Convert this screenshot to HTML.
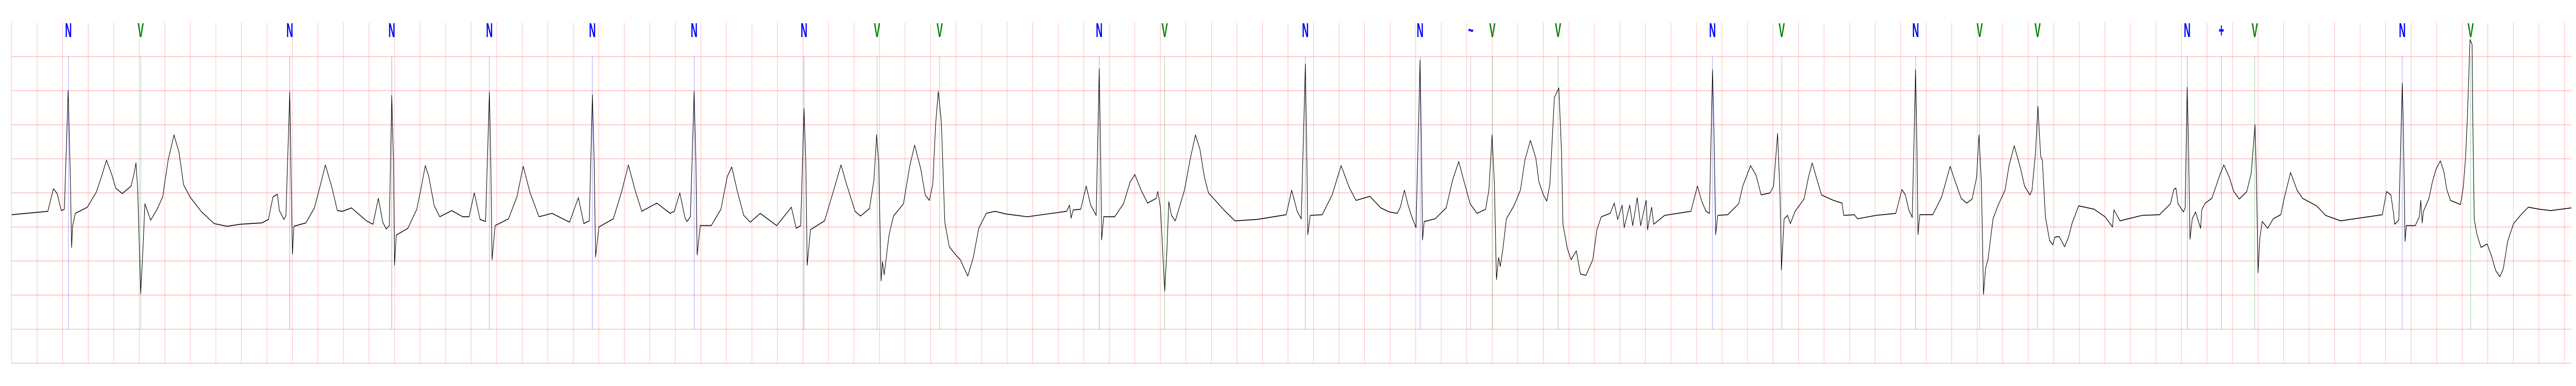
<!DOCTYPE html>
<html><head><meta charset="utf-8"><title>ECG strip</title>
<style>html,body{margin:0;padding:0;background:#fff;overflow:hidden;width:100%;height:100%;}svg{display:block;width:100vw;height:100vh;}</style></head>
<body>
<svg id="chart" viewBox="0 0 7522 750" preserveAspectRatio="none" xmlns="http://www.w3.org/2000/svg">
<rect x="0" y="0" width="7522" height="750" fill="#fff"/>
<g id="grid"></g>
<g id="markers"></g>
<g id="labels"></g>
<g id="trace"></g>
</svg>
<script>
// time (s) of knots
const sigT = [0,0.284,0.327,0.357,0.389,0.413,0.443,0.459,0.470,0.478,0.499,0.593,0.663,0.706,0.743,0.786,0.816,0.867,0.936,0.961,0.974,0.987,1.011,1.030,1.044,1.089,1.140,1.183,1.226,1.272,1.312,1.347,1.398,1.484,1.586,1.688,1.792,1.961,2.012,2.047,2.082,2.098,2.133,2.149,2.179,2.189,2.200,2.211,2.305,2.372,2.425,2.458,2.509,2.552,2.592,2.662,2.780,2.831,2.873,2.908,2.935,2.959,2.978,2.992,3.000,3.013,3.104,3.174,3.209,3.241,3.268,3.311,3.354,3.448,3.534,3.584,3.625,3.670,3.713,3.743,3.754,3.764,3.788,3.893,3.960,4.008,4.062,4.132,4.234,4.371,4.440,4.483,4.526,4.550,4.564,4.575,4.601,4.714,4.781,4.832,4.886,4.937,5.055,5.159,5.192,5.235,5.275,5.291,5.318,5.347,5.361,5.371,5.395,5.481,5.557,5.607,5.642,5.685,5.736,5.787,5.865,5.994,6.109,6.147,6.182,6.208,6.222,6.233,6.259,6.369,6.439,6.498,6.541,6.608,6.651,6.721,6.756,6.777,6.793,6.812,6.823,6.836,6.874,6.909,6.987,7.038,7.075,7.123,7.158,7.190,7.217,7.239,7.260,7.284,7.311,7.346,7.397,7.432,7.491,7.534,7.577,7.636,7.705,7.791,7.958,8.266,8.288,8.301,8.317,8.376,8.419,8.454,8.497,8.521,8.532,8.540,8.556,8.642,8.711,8.763,8.800,8.849,8.900,8.967,8.980,9.001,9.034,9.052,9.066,9.087,9.117,9.189,9.232,9.275,9.310,9.345,9.377,9.498,9.584,9.755,9.986,10.029,10.072,10.104,10.136,10.147,10.155,10.174,10.268,10.346,10.416,10.482,10.533,10.641,10.727,10.794,10.856,10.880,10.912,10.941,10.966,11.003,11.035,11.046,11.054,11.067,11.153,11.239,11.290,11.338,11.376,11.427,11.481,11.548,11.574,11.599,11.617,11.633,11.650,11.663,11.684,11.711,11.770,11.821,11.856,11.899,11.942,11.966,12.001,12.028,12.052,12.087,12.122,12.143,12.154,12.189,12.218,12.259,12.291,12.334,12.388,12.420,12.455,12.524,12.556,12.583,12.618,12.634,12.677,12.701,12.736,12.763,12.806,12.817,12.849,12.865,12.951,13.157,13.208,13.241,13.275,13.302,13.326,13.337,13.351,13.367,13.445,13.531,13.563,13.624,13.667,13.707,13.777,13.804,13.836,13.855,13.866,13.887,13.914,13.936,13.973,14.043,14.078,14.107,14.145,14.180,14.274,14.341,14.354,14.437,14.462,14.606,14.762,14.810,14.837,14.864,14.891,14.917,14.928,14.936,14.950,15.052,15.121,15.188,15.223,15.274,15.317,15.360,15.395,15.414,15.433,15.449,15.465,15.484,15.524,15.564,15.618,15.650,15.690,15.736,15.771,15.813,15.829,15.857,15.875,15.897,15.910,15.934,15.967,15.993,16.007,16.042,16.085,16.117,16.144,16.195,16.316,16.401,16.460,16.471,16.519,16.691,16.828,16.914,16.940,16.957,16.973,17.016,17.029,17.045,17.053,17.067,17.085,17.110,17.150,17.160,17.187,17.238,17.273,17.300,17.332,17.375,17.410,17.453,17.512,17.547,17.576,17.587,17.600,17.614,17.633,17.676,17.719,17.778,17.804,17.855,17.906,17.949,18.059,18.129,18.247,18.574,18.607,18.641,18.660,18.671,18.703,18.730,18.738,18.752,18.762,18.832,18.864,18.875,18.886,18.896,18.939,18.966,18.993,19.028,19.055,19.079,19.108,19.186,19.208,19.226,19.240,19.261,19.277,19.283,19.294,19.315,19.347,19.395,19.430,19.462,19.495,19.522,19.556,19.602,19.656,19.717,19.806,19.894,20.055];
// amplitude (mV) of knots
const sigV = [0.18,0.23,0.56,0.49,0.24,0.26,2.00,0.80,-0.30,0.02,0.20,0.29,0.51,0.75,0.98,0.76,0.57,0.49,0.60,0.80,0.94,0.58,-0.98,-0.28,0.34,0.10,0.26,0.44,0.98,1.35,1.09,0.62,0.44,0.23,0.05,0.01,0.04,0.06,0.11,0.44,0.48,0.24,0.11,0.17,1.98,0.80,-0.40,0.01,0.06,0.28,0.66,0.91,0.58,0.24,0.23,0.28,0.09,0.04,0.42,0.07,-0.03,0.02,1.93,0.96,-0.56,-0.12,-0.02,0.26,0.58,0.90,0.74,0.31,0.15,0.24,0.15,0.15,0.50,0.11,0.08,1.98,0.96,-0.48,0.02,0.12,0.45,0.89,0.50,0.15,0.20,0.07,0.43,0.05,0.09,1.94,0.96,-0.44,0,0.12,0.53,0.91,0.53,0.23,0.35,0.20,0.23,0.50,0.14,0.08,0.15,1.99,0.96,-0.41,0.02,0.02,0.26,0.74,0.88,0.53,0.17,0.07,0.20,0.02,0.29,-0.02,0.02,1.74,0.96,-0.56,-0.04,0.09,0.53,0.91,0.63,0.23,0.16,0.27,0.69,1.35,0.96,-0.79,-0.51,-0.70,-0.12,0.16,0.34,0.91,1.20,0.85,0.47,0.39,0.63,1.50,1.99,1.55,0.07,-0.29,-0.41,-0.48,-0.72,-0.45,-0.02,0.20,0.23,0.19,0.15,0.23,0.32,0.13,0.25,0.26,0.60,0.32,0.17,2.32,1.10,-0.19,0.15,0.15,0.34,0.66,0.77,0.54,0.35,0.42,0.52,0.28,-0.94,-0.32,0.37,0.17,0.09,0.54,0.98,1.35,1.14,0.73,0.50,0.25,0.09,0.11,0.18,0.54,0.23,0.12,2.39,1.10,-0.11,0.17,0.18,0.47,0.90,0.57,0.39,0.45,0.28,0.22,0.20,0.29,0.54,0.32,0.17,-0.01,2.45,1.10,-0.19,0.08,0.12,0.28,0.69,0.96,0.69,0.34,0.20,0.26,0.54,1.35,0.63,-0.77,-0.45,-0.58,-0.32,0.12,0.31,0.54,0.98,1.27,1.01,0.66,0.47,0.38,0.63,1.90,2.04,1.10,0.04,-0.32,-0.48,-0.35,-0.69,-0.71,-0.48,-0.04,0.15,0.20,0.35,0.11,0.32,-0.01,0.32,0.02,0.43,0.02,0.39,-0.04,0.29,0.04,0.17,0.23,0.60,0.38,0.23,0.20,2.31,1.42,-0.11,0.17,0.18,0.34,0.60,0.90,0.76,0.47,0.50,0.60,1.37,0.47,-0.63,0.12,0.17,0.05,0.23,0.41,0.73,0.94,0.69,0.47,0.39,0.35,0.17,0.18,0.12,0.17,0.20,0.55,0.47,0.25,0.14,2.31,1.10,-0.11,0.18,0.18,0.44,0.89,0.69,0.42,0.35,0.41,0.73,1.35,0.63,-0.99,-0.61,-0.48,0.12,0.32,0.54,0.91,1.19,0.88,0.60,0.47,0.54,1.10,1.77,1.04,0.98,0.15,-0.20,-0.26,-0.15,-0.14,-0.29,-0.14,0.06,0.31,0.26,0.15,0,0.25,0.09,0.17,0.18,0.34,0.55,0.57,0.34,0.22,0.28,2.05,1.42,-0.18,0.12,0.22,-0.02,0.26,0.35,0.42,0.61,0.76,0.91,0.73,0.52,0.41,0.52,0.79,1.50,0.79,-0.67,-0.17,0.08,-0.02,0.12,0.18,0.41,0.80,0.54,0.42,0.31,0.17,0.09,0.18,0.52,0.47,0.22,0.04,0.10,2.11,1.53,-0.21,0.02,0.02,0.15,0.39,0.06,0.23,0.42,0.66,0.84,0.97,0.82,0.55,0.39,0.33,0.58,1.02,1.59,2.75,2.68,1.53,0.11,-0.11,-0.30,-0.25,-0.43,-0.64,-0.73,-0.61,-0.21,0.05,0.17,0.29,0.26,0.24,0.28];
// beat annotations
const beatT = [0.445,1.011,2.179,2.978,3.743,4.550,5.347,6.208,6.780,7.271,8.521,9.034,10.136,11.035,11.432,11.601,12.116,13.326,13.868,14.917,15.419,15.873,17.045,17.313,17.574,18.730,19.266];
const beatLabel = ["N","V","N","N","N","N","N","N","V","V","N","V","N","N","~","V","V","N","V","N","V","V","N","+","V","N","V"];

const NS = "http://www.w3.org/2000/svg";
const X0 = 34, PX_PER_S = 372.7, Y0 = 441, PX_PER_MV = 132.4;
function xS(t){ return X0 + t*PX_PER_S; }
function yS(v){ return Y0 - v*PX_PER_MV; }
function mk(tag, attrs, parent){ const e = document.createElementNS(NS, tag); for (const k in attrs) e.setAttribute(k, attrs[k]); parent.appendChild(e); return e; }

// grid
const grid = document.getElementById('grid');
const tEnd = 20.055;
for (let k = 0; k * 0.2 <= tEnd + 1e-9; k++) {
  const x = xS(k * 0.2);
  const l = mk('line', {x1:x, x2:x, y1:44, y2:yS(-2.0), stroke:'rgba(255,0,0,0.27)', 'stroke-width':1.5}, grid);
  
  
}
for (let k = 0; k <= 9; k++) {
  const y = yS(2.5 - k * 0.5);
  const l = mk('line', {x1:X0, x2:xS(tEnd), y1:y, y2:y, stroke:'rgba(255,0,0,0.27)', 'stroke-width':1.5}, grid);
  
  
}

// markers and labels
const markers = document.getElementById('markers');
const labels = document.getElementById('labels');
for (let i = 0; i < beatT.length; i++) {
  const x = xS(beatT[i]);
  const isV = beatLabel[i] === 'V';
  const col = isV ? 'rgba(0,128,0,0.55)' : (beatLabel[i] === '~' ? 'rgba(90,90,140,0.55)' : 'rgba(0,0,255,0.55)');
  const ln = mk('line', {x1:x, x2:x, y1:yS(2.5), y2:yS(-1.5), stroke:col, 'stroke-width':1}, markers);
  
  
  const tx = mk('text', {transform:'translate(' + x + ',72) scale(0.7,1)', 'text-anchor':'middle', 'font-family':'Liberation Sans, DejaVu Sans, sans-serif', 'font-weight':'bold', 'font-size':39, fill: isV ? '#008000' : '#0000ff'}, labels);
  tx.textContent = beatLabel[i];
  
  
}

// trace
const trace = document.getElementById('trace');
let d = '';
for (let i = 0; i < sigT.length; i++) {
  d += (i ? 'L' : 'M') + xS(sigT[i]).toFixed(2) + ' ' + yS(sigV[i]).toFixed(2);
}
const p = mk('path', {d:d, fill:'none', stroke:'#000', 'stroke-width':1.6, 'stroke-linejoin':'round'}, trace);


</script>
</body></html>
